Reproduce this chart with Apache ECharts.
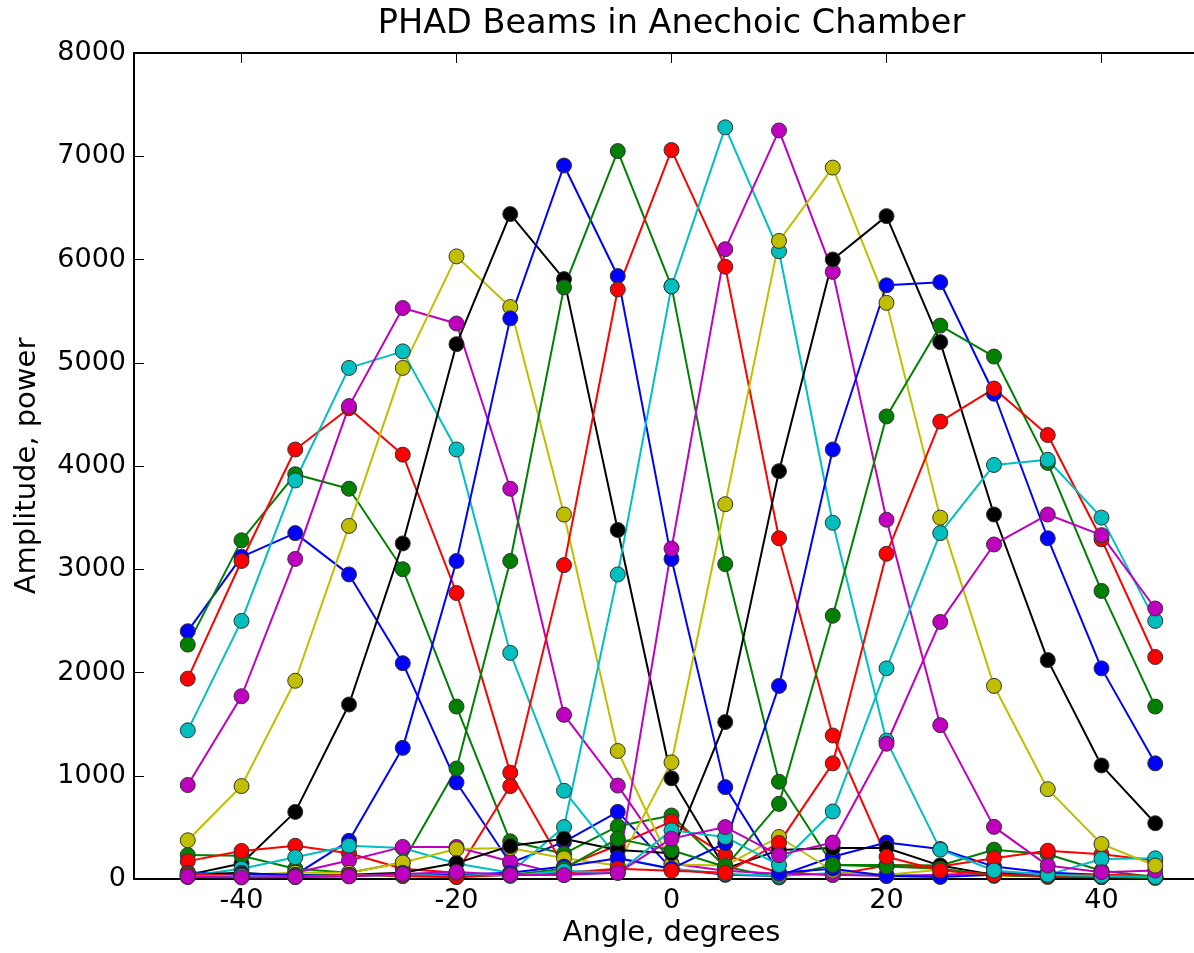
<!DOCTYPE html>
<html>
<head>
<meta charset="utf-8">
<script src="https://cdn.jsdelivr.net/npm/echarts@6/dist/echarts.min.js"></script>
<style>
html,body{margin:0;padding:0;overflow:hidden;background:#fff;width:1194px;height:953px;}
#chart{width:1343px;height:953px;}
</style>
</head>
<body>
<div id="chart"></div>
<script>
const angles = [-45,-40,-35,-30,-25,-20,-15,-10,-5,0,5,10,15,20,25,30,35,40,45];
const xTickLabels = [-40,-20,0,20,40];
const yTicks = [0,1000,2000,3000,4000,5000,6000,7000,8000];
const colorCycle = ['#0000ff','#008000','#ff0000','#00bfbf','#bf00bf','#bfbf00','#000000'];

const beam01 = [2400,3120,3350,2950,2090,935,155,360,650,100,40,30,215,353,290,120,60,40,20];
const beam02 = [2270,3280,3920,3780,3000,1670,365,245,510,615,118,15,135,135,130,284,240,80,20];
const beam03 = [1940,3080,4160,4560,4110,2770,1030,118,327,558,231,60,40,130,120,200,274,240,180];
const beam04 = [1440,2500,3860,4950,5110,4160,2190,855,205,100,50,30,58,40,30,60,40,194,200];
const beam05 = [910,1770,3100,4580,5530,5380,3780,1590,905,150,80,50,40,30,40,60,40,30,20];
const beam06 = [375,900,1920,3420,4950,6030,5540,3530,1240,140,130,407,80,40,90,30,30,20,20];
const beam07 = [40,150,650,1690,3250,5180,6440,5810,3380,975,100,280,300,300,130,40,30,20,20];
const beam08 = [65,40,40,370,1270,3080,5430,6910,5840,3100,890,60,100,30,20,40,60,30,20];
const beam09 = [233,226,100,60,160,1070,3080,5730,7050,5740,3050,942,135,120,100,40,20,20,10];
const beam10 = [173,272,322,250,100,60,900,3040,5710,7060,5930,3300,1390,215,82,40,30,40,30];
const beam11 = [30,100,210,322,300,150,60,503,2950,5740,7280,6080,3450,1340,284,82,40,30,20];
const beam12 = [22,20,60,180,311,310,170,40,93,3200,6100,7250,5880,3480,1490,505,130,66,82];
const beam13 = [20,40,60,60,160,290,300,200,130,1130,3630,6180,6890,5580,3500,1870,870,339,130];
const beam14 = [40,60,30,40,60,154,320,390,280,250,1520,3950,6000,6420,5200,3530,2120,1100,540];
const beam15 = [30,50,40,30,50,40,60,120,200,100,346,1870,4160,5750,5780,4700,3300,2040,1120];
const beam16 = [60,20,30,40,30,20,40,100,391,279,118,728,2550,4480,5360,5060,4030,2790,1670];
const beam17 = [50,30,20,40,30,20,40,60,100,80,60,350,1120,3150,4430,4750,4300,3290,2150];
const beam18 = [30,30,20,30,40,60,30,80,60,471,407,135,654,2040,3350,4010,4060,3500,2500];
const beam19 = [22,15,20,25,48,67,38,38,60,391,503,231,353,1310,2490,3240,3530,3330,2620];

const beams = [beam01,beam02,beam03,beam04,beam05,beam06,beam07,beam08,beam09,beam10,
               beam11,beam12,beam13,beam14,beam15,beam16,beam17,beam18,beam19];

const FONT = 'DejaVu Sans';
const series = beams.map((vals, i) => {
  const c = colorCycle[i % colorCycle.length];
  return {
    type: 'line',
    data: angles.map((a, j) => [a, vals[j]]),
    symbol: 'circle',
    symbolSize: 15,
    showSymbol: true,
    animation: false,
    lineStyle: { color: c, width: 2 },
    itemStyle: { color: c, borderColor: '#333', borderWidth: 1 },
    emphasis: { disabled: true },
    xAxisIndex: 0, yAxisIndex: 0
  };
});

const xBase = {
  type: 'value', min: -50, max: 50, interval: 10,
  splitLine: { show: false },
  axisLine: { show: true, onZero: false, lineStyle: { color: '#000', width: 2 } },
  axisTick: { show: true, inside: true, length: 10, customValues: xTickLabels, lineStyle: { color: '#000', width: 1 } }
};
const yBase = {
  type: 'value', min: 0, max: 8000, interval: 1000,
  splitLine: { show: false },
  axisLine: { show: true, onZero: false, lineStyle: { color: '#000', width: 2 } },
  axisTick: { show: true, inside: true, length: 10, customValues: yTicks, lineStyle: { color: '#000', width: 1 } }
};

const chart = echarts.init(document.getElementById('chart'), null, { renderer: 'canvas' });
chart.setOption({
  animation: false,
  backgroundColor: '#fff',
  title: {
    text: 'PHAD Beams in Anechoic Chamber',
    left: 'center', top: 7, padding: 0,
    textStyle: { fontFamily: FONT, fontSize: 33.5, fontWeight: 'normal', color: '#000' }
  },
  grid: { left: 134, right: 134, top: 53, bottom: 69, containLabel: false, show: false },
  xAxis: [
    Object.assign({}, xBase, {
      position: 'bottom',
      name: 'Angle, degrees', nameLocation: 'middle', nameGap: 40,
      nameTextStyle: { fontFamily: FONT, fontSize: 29, color: '#000' },
      axisLabel: { show: true, customValues: xTickLabels, fontFamily: FONT, fontSize: 27, color: '#000', margin: 8,
                   formatter: v => String(v) }
    }),
    Object.assign({}, xBase, { position: 'top', axisLabel: { show: false } })
  ],
  yAxis: [
    Object.assign({}, yBase, {
      position: 'left',
      name: 'Amplitude, power', nameLocation: 'middle', nameGap: 92,
      nameTextStyle: { fontFamily: FONT, fontSize: 29, color: '#000' },
      axisLabel: { show: true, customValues: yTicks, fontFamily: FONT, fontSize: 27, color: '#000', margin: 8,
                   formatter: v => String(v) }
    }),
    Object.assign({}, yBase, { position: 'right', axisLabel: { show: false } })
  ],
  series: series
});
</script>
</body>
</html>
